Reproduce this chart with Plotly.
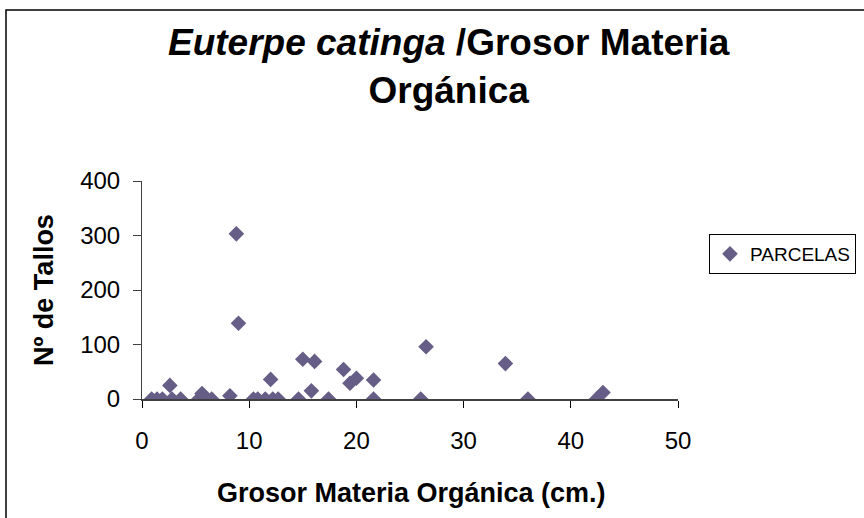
import plotly.graph_objects as go

# Data
grosor_cm = [0.9, 1.4, 1.9, 2.6, 2.8, 3.6, 5.3, 5.6, 6.0, 6.5, 8.2, 8.8, 9.0,
             10.4, 10.8, 11.5, 12.0, 12.2, 12.7, 14.6, 15.0, 15.8, 16.1, 17.4,
             18.8, 19.4, 20.0, 21.6, 21.6, 26.0, 26.5, 33.9, 36.0, 42.4, 43.0]
n_tallos = [0, 0, 0, 25, 0, 0, 0, 10, 0, 0, 6, 303, 139,
            0, 0, 0, 36, 0, 0, 0, 73, 15, 69, 0,
            54, 29, 38, 35, 0, 0, 96, 65, 0, 0, 12]

series_name = "PARCELAS"
x_ticks = [0, 10, 20, 30, 40, 50]
y_ticks = [0, 100, 200, 300, 400]
title_text = "<b><i>Euterpe catinga</i> /Grosor Materia<br>Orgánica</b>"
x_title = "<b>Grosor Materia Orgánica (cm.)</b>"
y_title = "<b>Nº de Tallos</b>"

FONT = "Arial, Liberation Sans, sans-serif"
COLOR = "#665E86"

fig = go.Figure()
fig.add_trace(go.Scatter(
    x=grosor_cm, y=n_tallos, mode="markers", name=series_name,
    marker=dict(symbol="diamond", size=12, color=COLOR, line=dict(width=0)),
    showlegend=True,
))

W, H = 864, 518
# plot area on the page: x 142..678, y 181..399
L, R, T, B = 142, 678, 181, 399


def px(xp):
    return (xp - L) / (R - L)


def py(yp):
    return (B - yp) / (B - T)


fig.update_layout(
    width=W, height=H,
    margin=dict(l=L, r=W - R, t=T, b=H - B, pad=0, autoexpand=False),
    paper_bgcolor="white", plot_bgcolor="white",
    font=dict(family=FONT, color="black"),
    xaxis=dict(
        range=[0, 50], tickvals=x_ticks, showgrid=False, zeroline=False,
        showline=True, linecolor="#404040", linewidth=2,
        ticks="outside", ticklen=7, tickcolor="black", tickwidth=1,
        tickfont=dict(size=24, family=FONT, color="black"),
        ticklabelstandoff=12,
        automargin=False,
    ),
    yaxis=dict(
        range=[0, 400], tickvals=y_ticks, showgrid=False, zeroline=False,
        showline=True, linecolor="#404040", linewidth=1,
        ticks="outside", ticklen=8, tickcolor="#404040", tickwidth=1,
        tickfont=dict(size=24, family=FONT, color="black"),
        ticklabelstandoff=8,
        automargin=False,
    ),
    legend=dict(
        xref="container", yref="container",
        x=709 / W, xanchor="left",
        y=1 - 254 / H, yanchor="middle",
        bordercolor="black", borderwidth=1, bgcolor="white",
        font=dict(size=19, family=FONT, color="black"),
        itemwidth=30,
    ),
    showlegend=True,
)

fig.add_annotation(text=title_text, xref="paper", yref="paper",
                   x=px(449), y=py(20), xanchor="center", yanchor="top",
                   showarrow=False, align="center",
                   font=dict(size=37, family=FONT, color="black"))
fig.add_annotation(text=x_title, xref="paper", yref="paper",
                   x=px(411), y=py(493), xanchor="center", yanchor="middle",
                   showarrow=False, font=dict(size=27, family=FONT, color="black"))
fig.add_annotation(text=y_title, xref="paper", yref="paper",
                   x=px(44), y=py(290), xanchor="center", yanchor="middle",
                   textangle=-90, showarrow=False,
                   font=dict(size=27, family=FONT, color="black"))

# outer chart frame (extends past the right and bottom of the page)
fig.add_shape(
    type="rect", xref="paper", yref="paper",
    x0=px(6), x1=px(W + 40), y0=py(H + 40), y1=py(10),
    line=dict(color="black", width=1.5), fillcolor="rgba(0,0,0,0)", layer="below",
)

fig.write_html(
    "out.html",
    config={"displayModeBar": False},
    post_script="document.body.style.margin='0';document.body.style.overflow='hidden';",
)
